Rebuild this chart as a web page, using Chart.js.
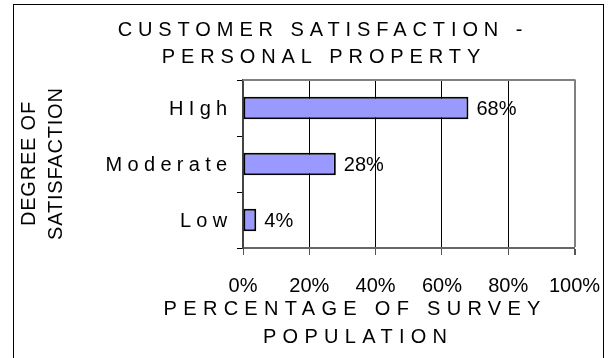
<!DOCTYPE html>
<html>
<head>
<meta charset="utf-8">
<script src="https://cdn.jsdelivr.net/npm/chart.js@4/dist/chart.umd.min.js"></script>
<style>
  html, body { margin: 0; padding: 0; background: #fff; }
  #wrap { width: 608px; height: 358px; position: relative; }
</style>
</head>
<body>
<div id="wrap"><canvas id="satChart"></canvas></div>
<script>
// survey results
const categories = ['HIgh', 'Moderate', 'Low'];
const percentages = [68, 28, 4];
const xTickValues = [0, 20, 40, 60, 80, 100];

const titleLines = ['CUSTOMER SATISFACTION -', 'PERSONAL PROPERTY'];
const yTitleLines = ['DEGREE OF', 'SATISFACTION'];
const xTitleLines = ['PERCENTAGE OF SURVEY', 'POPULATION'];

const FONT = '"Liberation Sans", Arial, sans-serif';

// centred text with letter spacing (canvas adds spacing after the last glyph too)
function spacedText(c, text, cx, y, size, spacing) {
  c.font = size + 'px ' + FONT;
  c.letterSpacing = spacing + 'px';
  const w = c.measureText(text).width - spacing;
  c.textAlign = 'left';
  c.fillText(text, cx - w / 2, y);
  c.letterSpacing = '0px';
}

const decorations = {
  id: 'decorations',
  beforeDraw(chart) {
    const c = chart.ctx;
    c.save();
    c.fillStyle = '#fff';
    c.fillRect(0, 0, chart.width, chart.height);
    c.strokeStyle = '#000';
    c.lineWidth = 1;
    c.strokeRect(13.5, 4.5, 590, 380);
    c.restore();
  },
  afterDraw(chart) {
    const c = chart.ctx;
    const area = chart.chartArea;
    const yScale = chart.scales.y;
    c.save();

    // top edge of the plot box
    c.strokeStyle = '#808080';
    c.lineWidth = 2;
    c.beginPath();
    c.moveTo(area.left, area.top);
    c.lineTo(area.right + 1, area.top);
    c.stroke();

    c.fillStyle = '#000';
    c.textBaseline = 'alphabetic';

    // chart title
    spacedText(c, titleLines[0], 320, 36, 20, 5.9);
    spacedText(c, titleLines[1], 321, 63, 20, 5.9);

    // x axis title
    spacedText(c, xTitleLines[0], 352, 315, 20, 6.3);
    spacedText(c, xTitleLines[1], 355, 343, 20, 6.3);

    // y axis title, rotated
    [35, 62].forEach((bx, i) => {
      c.save();
      c.translate(bx, 164);
      c.rotate(-Math.PI / 2);
      spacedText(c, yTitleLines[i], 0, 0, 20, 0.8);
      c.restore();
    });

    // category labels
    c.font = '20px ' + FONT;
    c.letterSpacing = '5.3px';
    c.textAlign = 'right';
    categories.forEach((cat, i) => {
      const y = yScale.getPixelForValue(i);
      c.fillText(cat, 232.5, y + 7);
    });
    c.letterSpacing = '0px';

    // value labels at the end of each bar
    c.font = '20px ' + FONT;
    c.textAlign = 'left';
    const meta = chart.getDatasetMeta(0);
    meta.data.forEach((bar, i) => {
      c.fillText(percentages[i] + '%', bar.x + 8, bar.y + 7);
    });
    c.restore();
  }
};

const data = {
  labels: categories,
  datasets: [{
    data: percentages,
    backgroundColor: '#9999FF',
    borderColor: '#000',
    borderWidth: 2,
    borderSkipped: false,
    categoryPercentage: 1,
    barPercentage: 0.4
  }]
};

const config = {
  type: 'bar',
  data: data,
  options: {
    indexAxis: 'y',
    responsive: true,
    maintainAspectRatio: false,
    animation: false,
    layout: { padding: { top: 80, right: 33.5, left: 0, bottom: 0 } },
    plugins: {
      legend: { display: false },
      tooltip: { enabled: false }
    },
    scales: {
      x: {
        min: 0,
        max: 100,
        afterBuildTicks: (scale) => { scale.ticks = xTickValues.map(v => ({ value: v })); },
        afterFit: (scale) => {
          scale.height = 110;
          scale.paddingLeft = 0;
          scale.paddingRight = 0;
        },
        grid: {
          color: (ctx) => ctx.tick && ctx.tick.value === 100 ? '#808080' : '#000',
          lineWidth: (ctx) => ctx.tick && ctx.tick.value === 100 ? 2 : 1,
          tickColor: '#555',
          tickLength: 7
        },
        border: { color: '#666', width: 2 },
        ticks: {
          padding: 19,
          color: '#000',
          font: { family: FONT, size: 20 },
          maxRotation: 0,
          callback: (v) => v + '%'
        }
      },
      y: {
        afterFit: (scale) => { scale.width = 243; },
        grid: {
          offset: true,
          drawOnChartArea: false,
          drawTicks: true,
          tickLength: 6,
          color: '#000'
        },
        border: { color: '#444', width: 2 },
        ticks: { display: false }
      }
    }
  },
  plugins: [decorations]
};

const satChart = new Chart(document.getElementById('satChart'), config);
</script>
</body>
</html>
